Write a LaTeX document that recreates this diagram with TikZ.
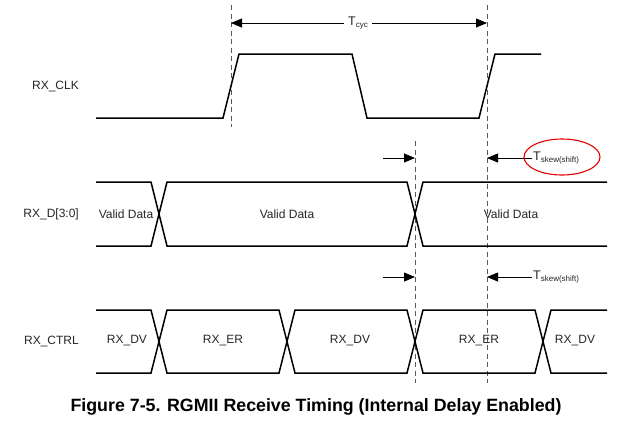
\documentclass[tikz,border=0pt]{standalone}
\usepackage{fontspec}
\setmainfont{Liberation Sans}
\usetikzlibrary{arrows.meta}
\tikzset{
  sig/.style={line width=1.5pt, black, line join=miter},
  guide/.style={gray!70!black, line width=1pt, dash pattern=on 5pt off 3.5pt},
  dim/.style={line width=0.8pt, black, -{Triangle[length=11pt,width=9pt]}},
  lbl/.style={font=\fontsize{12}{14}\selectfont, text=black!85, inner sep=0pt},
  siglbl/.style={lbl, anchor=east},
  subT/.style={font=\fontsize{12.5}{14}\selectfont, text=black!85, inner sep=1pt},
}
\newcommand{\subtxt}[1]{\raisebox{-0.35ex}{\fontsize{8}{9}\selectfont #1}}
\begin{document}
\begin{tikzpicture}[x=1pt,y=-1pt]
\useasboundingbox (0,0) rectangle (640,426);

% signal names
\node[siglbl] (clk) at (79,86) {RX\_CLK};
\node[siglbl] (rxd) at (79,214) {RX\_D[3:0]};
\node[siglbl] (ctrl) at (79,341) {RX\_CTRL};

% guides
\coordinate (g1t) at (231,5);   \coordinate (g1b) at (231,127);
\coordinate (g2t) at (487,5);   \coordinate (g2b) at (487,383);
\coordinate (g3t) at (415,141); \coordinate (g3b) at (415,383);
\draw[guide] (g1t) -- (g1b);
\draw[guide] (g2t) -- (g2b);
\draw[guide] (g3t) -- (g3b);

% clock
\draw[sig] (96,118) -- (223,118) -- (239,54) -- (352,54) -- (367,118) -- (479,118) -- (495,54) -- (541,54);

% RX_D bus
\draw[sig] (96,182) -- (151,182) -- (167,246) -- (407,246) -- (423,182) -- (607,182);
\draw[sig] (96,246) -- (151,246) -- (167,182) -- (407,182) -- (423,246) -- (607,246);

% RX_CTRL bus
\draw[sig] (96,310) -- (151,310) -- (167,373) -- (279,373) -- (295,310) -- (407,310) -- (423,373) -- (535,373) -- (551,310) -- (607,310);
\draw[sig] (96,373) -- (151,373) -- (167,310) -- (279,310) -- (295,373) -- (407,373) -- (423,310) -- (535,310) -- (551,373) -- (607,373);

% data labels
\node[lbl] (d1) at (126,214) {Valid Data};
\node[lbl] (d2) at (287,214) {Valid Data};
\node[lbl] (d3) at (511,214) {Valid Data};
\node[lbl] (c1) at (127,341) {RX\_DV};
\node[lbl] (c2) at (223,341) {RX\_ER};
\node[lbl] (c3) at (350,341) {RX\_DV};
\node[lbl] (c4) at (479,341) {RX\_ER};
\node[lbl] (c5) at (575,341) {RX\_DV};

% Tcyc
\coordinate (tcl) at (231,23);
\coordinate (tcr) at (487,23);
\node[subT, fill=white, inner xsep=4pt] (tcyc) at (358,23) {T\subtxt{cyc}};
\draw[dim] (tcyc.west) -- (tcl);
\draw[dim] (tcyc.east) -- (tcr);

% Tskew upper
\coordinate (s1a) at (383,158);
\coordinate (s1b) at (415,158);
\coordinate (s1c) at (487,158);
\node[subT, anchor=west] (sk1) at (532,158) {T\subtxt{skew(shift)}};
\draw[dim] (s1a) -- (s1b);
\draw[dim] (sk1.west) -- (s1c);
\draw[red!90!black, line width=1.1pt] (562,157) ellipse [x radius=38, y radius=18];

% Tskew lower
\coordinate (s2a) at (383,277);
\coordinate (s2b) at (415,277);
\coordinate (s2c) at (487,277);
\node[subT, anchor=west] (sk2) at (532,277) {T\subtxt{skew(shift)}};
\draw[dim] (s2a) -- (s2b);
\draw[dim] (sk2.west) -- (s2c);

% caption
\node[font=\bfseries\fontsize{17.8}{20}\selectfont, inner sep=0pt] (cap) at (316,407) {Figure 7-5. RGMII Receive Timing (Internal Delay Enabled)};
\end{tikzpicture}
\end{document}
